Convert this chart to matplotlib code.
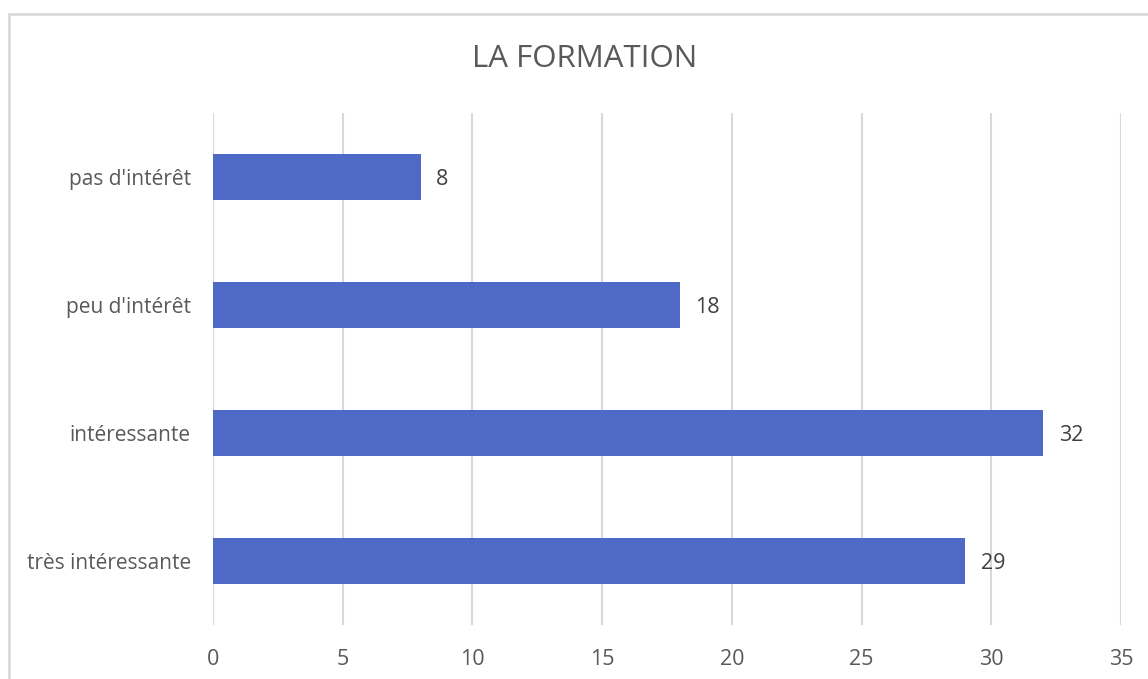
import matplotlib.pyplot as plt
from matplotlib.patches import Rectangle

categories = ["très intéressante", "intéressante", "peu d'intérêt", "pas d'intérêt"]
values = [29, 32, 18, 8]
xticks = [0, 5, 10, 15, 20, 25, 30, 35]

plt.rcParams['font.family'] = ['Open Sans', 'DejaVu Sans']

fig = plt.figure(figsize=(11.48, 6.79), dpi=100)
ax = fig.add_axes([213 / 1148, 1 - 625 / 679, 908 / 1148, 512 / 679])

# chart border (clipped by the image on the right and bottom)
fig.patches.append(Rectangle((9 / 1148, -0.1), 1.2, 1 - 14 / 679 + 0.1,
                             transform=fig.transFigure, fill=False,
                             edgecolor='#D9D9D9', linewidth=2))

ypos = range(len(categories))
ax.barh(ypos, values, height=0.36, color='#4F69C6', zorder=3)
for y, v in zip(ypos, values):
    ax.text(v + 0.6, y, str(v), va='center_baseline', ha='left',
            fontsize=15.5, color='#404040')

ax.set_xlim(0, 35)
ax.set_ylim(-0.5, 3.5)
ax.set_xticks(xticks)
ax.set_yticks(list(ypos))
ax.set_yticklabels(categories, fontsize=15, va='center_baseline')
ax.xaxis.grid(True, color='#D9D9D9', linewidth=1.5, zorder=0)
ax.tick_params(axis='both', length=0, labelcolor='#595959')
ax.tick_params(axis='x', pad=17, labelsize=15.5)
ax.tick_params(axis='y', pad=16)
for s in ax.spines.values():
    s.set_visible(False)

fig.text(585 / 1148, 1 - 59 / 679, "LA FORMATION", ha='center', va='center',
         fontsize=22.5, color='#595959')

fig.savefig('out.png', dpi=100)
